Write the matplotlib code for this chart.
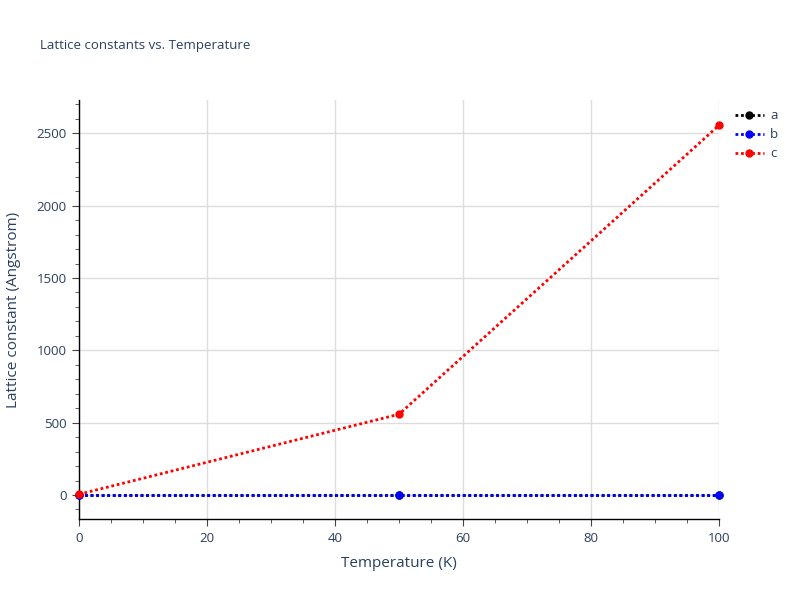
import matplotlib
matplotlib.use("Agg")
import matplotlib.pyplot as plt
from matplotlib.ticker import MultipleLocator

plt.rcParams["font.family"] = ["Open Sans", "DejaVu Sans"]

TXT = "#2a3f5f"
GRID = "#dddddd"

temperature = [0, 50, 100]
lat_a = [3.2, 3.2, 3.2]
lat_b = [3.2, 3.2, 3.2]
lat_c = [5, 558, 2555]

series = [("a", lat_a, "black"), ("b", lat_b, "blue"), ("c", lat_c, "red")]

fig = plt.figure(figsize=(8, 6), dpi=100)
ax = fig.add_axes([0.09875, 0.135, 0.80, 0.6983])

for name, vals, col in series:
    ax.plot(temperature, vals, linestyle=(0, (1, 1)), linewidth=2, color=col,
            marker="o", markersize=5, label=name, clip_on=False, zorder=3)

ax.set_xlim(0, 100)
ax.set_ylim(-166, 2730)
ax.xaxis.set_major_locator(MultipleLocator(20))
ax.xaxis.set_minor_locator(MultipleLocator(5))
ax.yaxis.set_major_locator(MultipleLocator(500))
ax.yaxis.set_minor_locator(MultipleLocator(100))
ax.grid(which="major", color=GRID, linewidth=1, zorder=0)
ax.set_axisbelow(True)

for side in ("top", "right"):
    ax.spines[side].set_visible(False)
for side in ("left", "bottom"):
    ax.spines[side].set_color("black")
    ax.spines[side].set_linewidth(1)

ax.tick_params(which="major", direction="out", length=5, color="#444444",
               labelcolor=TXT, labelsize=9.5, pad=4)
ax.tick_params(which="minor", direction="out", length=3, color="#444444")

ax.set_xlabel("Temperature (K)", color=TXT, fontsize=11, labelpad=8)
ax.set_ylabel("Lattice constant (Angstrom)", color=TXT, fontsize=11, labelpad=11)

fig.text(0.05, 0.925, "Lattice constants vs. Temperature", color=TXT,
         fontsize=9.5, va="center", ha="left")

leg = ax.legend(loc="upper left", bbox_to_anchor=(1.01, 1.0), frameon=False,
                fontsize=9.5, handlelength=2.2, labelspacing=0.45,
                handletextpad=0.5, borderaxespad=0.3)
for t in leg.get_texts():
    t.set_color(TXT)

fig.savefig("out.png", dpi=100)
